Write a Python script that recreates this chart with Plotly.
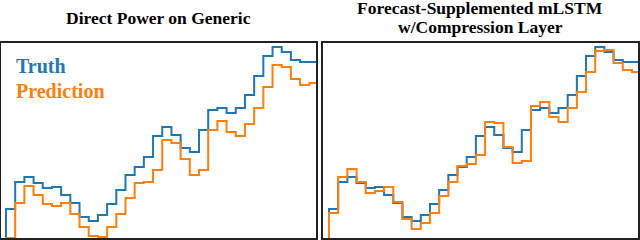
import plotly.graph_objects as go

# Step index (first entry is the step before the window, below visible range)
truth = [-40, 29, 56, 61, 55, 50, 51, 43, 35, 21, 17, 23, 34, 48, 63, 71, 81, 102, 111,
         103, 90, 86, 108, 128, 130, 125, 130, 143, 162, 182, 191, 186, 178, 176, 176]
pred_direct = [-40, 0, 35, 52, 43, 34, 32, 35, 24, 11, 2, 1, 11, 24, 40, 55, 56, 68, 98,
               95, 79, 63, 68, 108, 117, 106, 102, 114, 130, 151, 173, 171, 159, 153, 155]
pred_mlstm = [-40, 25, 61, 69, 56, 45, 47, 51, 36, 19, 9, 15, 25, 42, 56, 72, 74, 83, 116,
              115, 91, 75, 77, 132, 136, 121, 116, 130, 146, 166, 187, 188, 175, 168, 166]

title_left = ["Direct Power on Generic"]
title_right = ["Forecast-Supplemented mLSTM", "w/Compression Layer"]
series_names = ["Truth", "Prediction"]
BLUE = "#1f77b4"
ORANGE = "#ff7f0e"


def steps(vals):
    xs = list(range(-1, len(vals) - 1)) + [len(vals) - 1]
    ys = list(vals) + [vals[-1]]
    return xs, ys


fig = go.Figure()
for i, pred in enumerate([pred_direct, pred_mlstm]):
    ax = "" if i == 0 else "2"
    for vals, col, name in [(truth, BLUE, series_names[0]), (pred, ORANGE, series_names[1])]:
        xs, ys = steps(vals)
        fig.add_trace(go.Scatter(x=xs, y=ys, mode="lines", line=dict(color=col, width=2, shape="hv"),
                                 xaxis="x" + ax, yaxis="y" + ax, name=name, showlegend=False,
                                 hoverinfo="skip"))

W, H = 640, 240
ydom = [(H - 238) / H, (H - 43) / H]
axis_common = dict(showgrid=False, zeroline=False, showticklabels=False, ticks="",
                   showline=True, mirror=True, linecolor="#222", linewidth=2)
fig.update_layout(
    width=W, height=H, margin=dict(l=0, r=0, t=0, b=0),
    paper_bgcolor="white", plot_bgcolor="white",
    xaxis=dict(domain=[1 / W, 316 / W], range=[-0.544, 33.73], **axis_common),
    yaxis=dict(domain=ydom, range=[0, 195], **axis_common),
    xaxis2=dict(domain=[323 / W, 638 / W], range=[-0.654, 33.66], anchor="y2", **axis_common),
    yaxis2=dict(domain=ydom, range=[0, 195], anchor="x2", **axis_common),
)

SERIF = "Liberation Serif"
tfont = dict(family=SERIF, size=17.5, color="black")
for txt, cx, cy in [(title_left[0], 158, 18.5), (title_right[0], 480, 8.5), (title_right[1], 480, 26.5)]:
    fig.add_annotation(text="<b>" + txt + "</b>", xref="paper", yref="paper",
                       x=cx / W, y=(H - cy) / H, xanchor="center", yanchor="middle",
                       showarrow=False, font=tfont)

lfont = dict(family=SERIF, size=20)
fig.add_annotation(text="<b>" + series_names[0] + "</b>", xref="paper", yref="paper",
                   x=14 / W, y=(H - 66) / H, xanchor="left", yanchor="middle",
                   showarrow=False, font=dict(color=BLUE, **lfont))
fig.add_annotation(text="<b>" + series_names[1] + "</b>", xref="paper", yref="paper",
                   x=14 / W, y=(H - 90.5) / H, xanchor="left", yanchor="middle",
                   showarrow=False, font=dict(color=ORANGE, **lfont))

fig.write_html("out.html", config={"displayModeBar": False},
               post_script="document.body.style.margin='0';")
